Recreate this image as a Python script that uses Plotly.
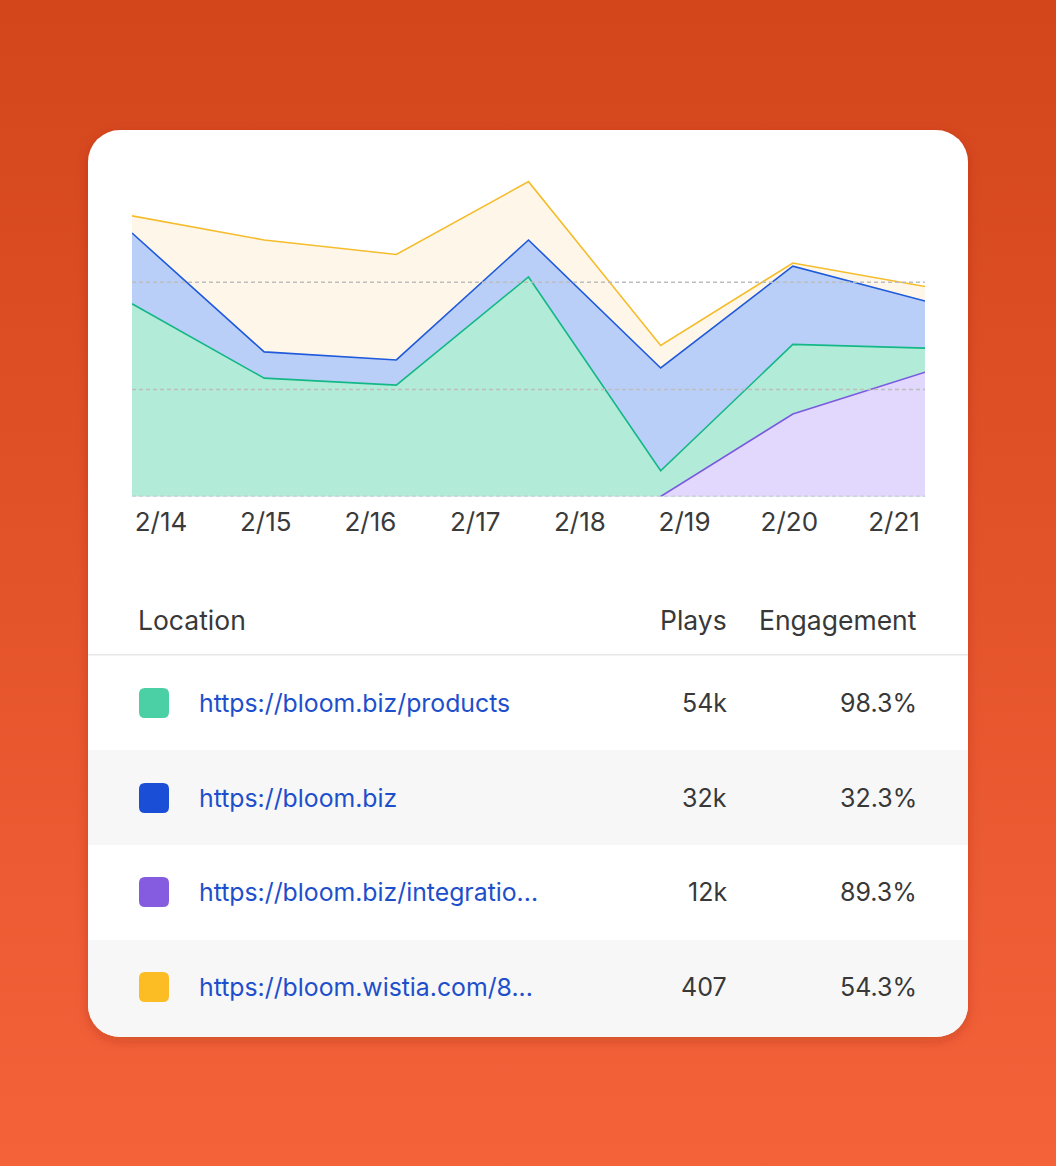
import base64
import plotly.graph_objects as go

W, H = 1056, 1166

# ---------------- data ----------------
dates = ["2/14", "2/15", "2/16", "2/17", "2/18", "2/19", "2/20", "2/21"]
point_idx = [0, 1, 2, 3, 4, 5, 6]

wistia = [26.2, 23.95, 22.6, 29.4, 14.1, 21.8, 19.6]        # yellow
bloom_home = [24.6, 13.5, 12.75, 23.95, 12.0, 21.5, 18.25]  # blue
products = [18.0, 11.05, 10.4, 20.5, 2.4, 14.2, 13.85]      # green
integrations = [None, None, None, None, 0.0, 7.7, 11.6]     # purple

grid_vals = [0, 10, 20]

locations = ["https://bloom.biz/products", "https://bloom.biz",
             "https://bloom.biz/integratio...", "https://bloom.wistia.com/8..."]
plays = ["54k", "32k", "12k", "407"]
engagement = ["98.3%", "32.3%", "89.3%", "54.3%"]
swatch_colors = ["#4BCFA5", "#1A4ED6", "#855CE0", "#FBBD23"]

FONT = "Inter, 'Noto Sans', sans-serif"
TXT = "#383838"
LINK = "#1E4FCB"

def fx(px):
    return px / W

def fy(py):
    return 1 - py / H

# ---------------- background svg (gradient, card, stripes) ----------------
card = dict(x=88, y=130, w=880, h=907, r=32)
row_top = [655, 750, 845, 940]
row_h = [95, 95, 95, 97]
stripes = ""
for i, (t, h) in enumerate(zip(row_top, row_h)):
    if i % 2 == 1:
        stripes += f'<rect x="{card["x"]}" y="{t}" width="{card["w"]}" height="{h}" fill="#F7F7F7"/>'
svg = f'''<svg xmlns="http://www.w3.org/2000/svg" width="{W}" height="{H}" viewBox="0 0 {W} {H}" preserveAspectRatio="none">
<defs>
<linearGradient id="bg" x1="0" y1="0" x2="0" y2="1">
<stop offset="0" stop-color="#D3451B"/><stop offset="1" stop-color="#F4623A"/></linearGradient>
<filter id="sh" x="-10%" y="-10%" width="120%" height="125%">
<feDropShadow dx="0" dy="4" stdDeviation="6" flood-color="#7a2000" flood-opacity="0.25"/></filter>
<clipPath id="cc"><rect x="{card['x']}" y="{card['y']}" width="{card['w']}" height="{card['h']}" rx="{card['r']}"/></clipPath>
</defs>
<rect width="{W}" height="{H}" fill="url(#bg)"/>
<rect x="{card['x']}" y="{card['y']}" width="{card['w']}" height="{card['h']}" rx="{card['r']}" fill="#FFFFFF" filter="url(#sh)"/>
<g clip-path="url(#cc)">{stripes}
<rect x="{card['x']}" y="654" width="{card['w']}" height="1.5" fill="#E8E8E8"/></g>
</svg>'''
svg_uri = "data:image/svg+xml;base64," + base64.b64encode(svg.encode()).decode()

# ---------------- figure ----------------
fig = go.Figure()

series = [
    (wistia, "#F5BC2C", "#FEF7E9"),
    (bloom_home, "#1F5ADB", "#BACFF8"),
    (products, "#14B886", "#B3EBD9"),
    (integrations, "#7A5BE0", "#E2D8FD"),
]
for vals, lc, fc in series:
    fig.add_trace(go.Scatter(x=point_idx, y=vals, mode="lines", fill="tozeroy",
                             line=dict(color=lc, width=1.6), fillcolor=fc,
                             hoverinfo="skip", showlegend=False))

# invisible trace carrying the date axis
fig.add_trace(go.Scatter(x=list(range(len(dates))), y=[None] * len(dates), xaxis="x2",
                         mode="lines", showlegend=False, hoverinfo="skip"))

shapes = []
for v in grid_vals:
    shapes.append(dict(type="line", xref="x domain", x0=0, x1=1, yref="y", y0=v, y1=v,
                       line=dict(color="#BDBDBD", width=1.5, dash="4px,3px"), layer="above"))

# legend swatches (rounded squares)
row_centers = [703, 798, 892, 987]
def rrect(x0, y0, x1, y1, r):
    pts = (f"M {fx(x0+r)} {fy(y0)} L {fx(x1-r)} {fy(y0)} Q {fx(x1)} {fy(y0)} {fx(x1)} {fy(y0+r)} "
           f"L {fx(x1)} {fy(y1-r)} Q {fx(x1)} {fy(y1)} {fx(x1-r)} {fy(y1)} "
           f"L {fx(x0+r)} {fy(y1)} Q {fx(x0)} {fy(y1)} {fx(x0)} {fy(y1-r)} "
           f"L {fx(x0)} {fy(y0+r)} Q {fx(x0)} {fy(y0)} {fx(x0+r)} {fy(y0)} Z")
    return pts
for c, yc in zip(swatch_colors, row_centers):
    shapes.append(dict(type="path", xref="paper", yref="paper",
                       path=rrect(139, yc - 15, 169, yc + 15, 6),
                       fillcolor=c, line=dict(width=0), layer="above"))

annotations = []
def txt(s, x, y, anchor, color=TXT, size=25):
    annotations.append(dict(text=s, x=fx(x), y=fy(y), xref="paper", yref="paper",
                            xanchor=anchor, yanchor="middle", showarrow=False,
                            borderpad=0, borderwidth=0,
                            font=dict(family=FONT, size=size, color=color)))

txt("Location", 138, 620, "left", size=26.5)
txt("Plays", 727, 620, "right", size=26.5)
txt("Engagement", 917, 620, "right", size=26.5)
for loc, p, e, yc in zip(locations, plays, engagement, row_centers):
    txt(loc, 199, yc, "left", color=LINK, size=24.8)
    txt(p, 727, yc, "right")
    txt(e, 917, yc, "right")

y_bottom_px, y_top_px = 496.5, 175.2
fig.update_layout(
    width=W, height=H,
    margin=dict(l=0, r=0, t=0, b=0),
    paper_bgcolor="#E4532A",
    plot_bgcolor="rgba(0,0,0,0)",
    showlegend=False,
    images=[dict(source=svg_uri, xref="paper", yref="paper", x=0, y=1, sizex=1, sizey=1,
                 xanchor="left", yanchor="top", sizing="stretch", layer="below")],
    xaxis=dict(domain=[fx(132), fx(925)], range=[0, 6], showgrid=False, zeroline=False,
               showline=False, showticklabels=False, ticks="", fixedrange=True),
    xaxis2=dict(overlaying="x", anchor="y", side="bottom", range=[-0.277, 7.296],
                tickmode="array", tickvals=list(range(len(dates))), ticktext=dates,
                showgrid=False, zeroline=False, showline=False, ticks="",
                ticklabelstandoff=7,
                tickfont=dict(family=FONT, size=26, color="#3A3A3A")),
    yaxis=dict(domain=[fy(y_bottom_px), fy(y_top_px)], range=[0, 30], showgrid=False,
               zeroline=False, showline=False, showticklabels=False, ticks=""),
    shapes=shapes,
    annotations=annotations,
)

fig.write_html("out.html")
